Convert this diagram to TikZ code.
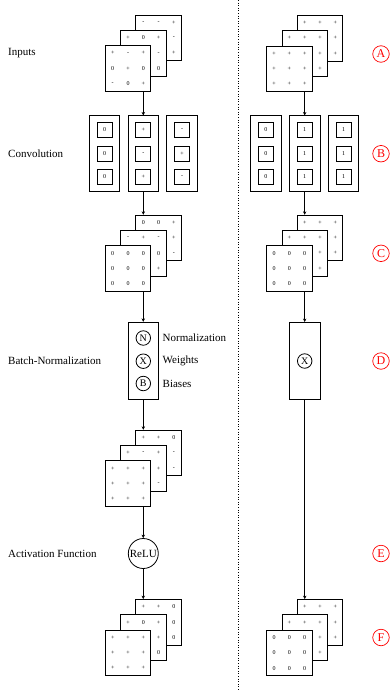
\documentclass[tikz,border=0pt]{standalone}
\usepackage{fontspec}
\setmainfont{Liberation Serif}
\usetikzlibrary{arrows.meta,calc}
\tikzset{
  sq/.style={draw, line width=0.9pt, fill=white, minimum size=45.5pt, inner sep=0pt},
  cell/.style={font=\fontsize{6}{6}\selectfont, inner sep=0pt},
  convbox/.style={draw, line width=0.9pt, minimum width=30.5pt, minimum height=76pt, inner sep=0pt},
  kern/.style={draw, line width=0.8pt, minimum size=15pt, inner sep=0pt, font=\fontsize{6}{6}\selectfont},
  bnbox/.style={draw, line width=0.9pt, minimum width=30.5pt, minimum height=77pt, inner sep=0pt},
  op/.style={draw, circle, line width=0.8pt, minimum size=14.5pt, inner sep=0pt, font=\fontsize{10}{10}\selectfont},
  relu/.style={draw, circle, line width=0.8pt, inner sep=0.5pt, minimum size=30pt, font=\fontsize{11}{11}\selectfont},
  lbl/.style={anchor=west, font=\fontsize{11}{11}\selectfont, inner sep=0pt},
  tag/.style={draw=red, text=red, circle, line width=0.7pt, minimum size=16.5pt, inner sep=0pt, font=\fontsize{12}{12}\selectfont},
  conn/.style={line width=0.8pt, -{Stealth[length=3.5pt,width=3.5pt]}},
  divider/.style={line width=0.6pt, dotted}
}
\newcommand{\gridsq}[4]{%
  \node[sq] (#1) at (#2,#3) {};
  \foreach \t [count=\k from 0] in {#4} {
    \pgfmathtruncatemacro{\cc}{mod(\k,3)}
    \pgfmathtruncatemacro{\rr}{div(\k,3)}
    \node[cell] (#1-\k) at ($(#1.center)+(\cc*15.3-15.3,\rr*15.3-15.3)$) {\t};
  }
}
\newcommand{\layerstack}[6]{%
  \gridsq{#1back}{#2+15.3}{#3+23}{#4}
  \gridsq{#1mid}{#2}{#3+38.3}{#5}
  \gridsq{#1front}{#2-15.3}{#3+53.6}{#6}
}
\newcommand{\convcol}[5]{%
  \node[convbox] (#1) at (#2,153.9) {};
  \node[kern] (#1-a) at (#2,130) {#3};
  \node[kern] (#1-b) at (#2,153.7) {#4};
  \node[kern] (#1-c) at (#2,177) {#5};
}
\begin{document}
\begin{tikzpicture}[x=1pt,y=-1pt]
\useasboundingbox (0,0) rectangle (391,691);
% divider
\coordinate (dtop) at (238,0);
\coordinate (dbot) at (238,691);
\draw[divider] (dtop) -- (dbot);

% left labels
\node[lbl] (tin) at (8,53.5) {Inputs};
\node[lbl] (tconv) at (8,153.9) {Convolution};
\node[lbl] (tbn) at (8,361) {Batch-Normalization};
\node[lbl] (tact) at (8,553.5) {Activation Function};

% ---------- left column ----------
\layerstack{LA}{143.3}{15}{-,-,+,0,0,-,0,0,+}{+,0,+,0,0,-,0,0,0}{+,-,+,0,+,0,-,0,+}
\convcol{Lconv1}{104.5}{0}{0}{0}
\convcol{Lconv2}{143.3}{+}{-}{+}
\convcol{Lconv3}{182.1}{-}{+}{-}
\layerstack{LC}{143.3}{215}{0,0,+,0,0,+,0,0,-}{-,+,-,0,0,0,0,0,+}{0,0,0,0,0,0,0,0,0}
\node[bnbox] (Lbn) at (143.3,360.8) {};
\node[op] (Lnorm) at (143.3,338) {N};
\node[op] (Lwei) at (143.3,361.2) {X};
\node[op] (Lbias) at (143.3,383.5) {B};
\node[lbl] (tnorm) at (162.5,338) {Normalization};
\node[lbl] (twei) at (162.5,361.2) {Weights};
\node[lbl] (tbia) at (162.5,383.5) {Biases};
\layerstack{LD}{143.3}{430}{+,+,0,+,+,-,+,+,-}{+,-,+,+,+,+,+,+,-}{+,+,+,+,+,+,+,+,+}
\node[relu] (relu) at (143.3,553.5) {ReLU};
\layerstack{LF}{143.3}{599.3}{+,+,0,+,+,0,+,+,0}{+,0,+,+,+,+,+,+,0}{+,+,+,+,+,+,+,+,+}

\draw[conn] (LAmid.center |- LAfront.south) -- (Lconv2.north);
\draw[conn] (Lconv2.south) -- (LCmid.center |- LCback.north);
\draw[conn] (LCmid.center |- LCfront.south) -- (Lbn.north);
\draw[conn] (Lbn.south) -- (LDmid.center |- LDback.north);
\draw[conn] (LDmid.center |- LDfront.south) -- (relu.north);
\draw[conn] (relu.south) -- (LFmid.center |- LFback.north);

% ---------- right column ----------
\layerstack{RA}{304.7}{15.3}{+,+,+,+,+,+,+,+,+}{+,+,+,+,+,+,+,+,+}{+,+,+,+,+,+,+,+,+}
\convcol{Rconv1}{265.9}{0}{0}{0}
\convcol{Rconv2}{304.7}{1}{1}{1}
\convcol{Rconv3}{343.5}{1}{1}{1}
\layerstack{RC}{304.7}{215}{+,+,+,+,+,+,+,+,+}{+,+,+,+,+,+,+,+,+}{0,0,0,0,0,0,0,0,0}
\node[bnbox] (Rbn) at (304.7,361) {};
\node[op] (Rwei) at (304.7,361) {X};
\layerstack{RF}{304.7}{599.3}{+,+,+,+,+,+,+,+,+}{+,+,+,+,+,+,+,+,+}{0,0,0,0,0,0,0,0,0}

\draw[conn] (RAmid.center |- RAfront.south) -- (Rconv2.north);
\draw[conn] (Rconv2.south) -- (RCmid.center |- RCback.north);
\draw[conn] (RCmid.center |- RCfront.south) -- (Rbn.north);
\draw[conn] (Rbn.south) -- (RFmid.center |- RFback.north);

% tags
\node[tag] (tA) at (381,54) {A};
\node[tag] (tB) at (381,153.7) {B};
\node[tag] (tC) at (381,253.3) {C};
\node[tag] (tD) at (381,361) {D};
\node[tag] (tE) at (381,553.5) {E};
\node[tag] (tF) at (381,637.5) {F};
\end{tikzpicture}
\end{document}
